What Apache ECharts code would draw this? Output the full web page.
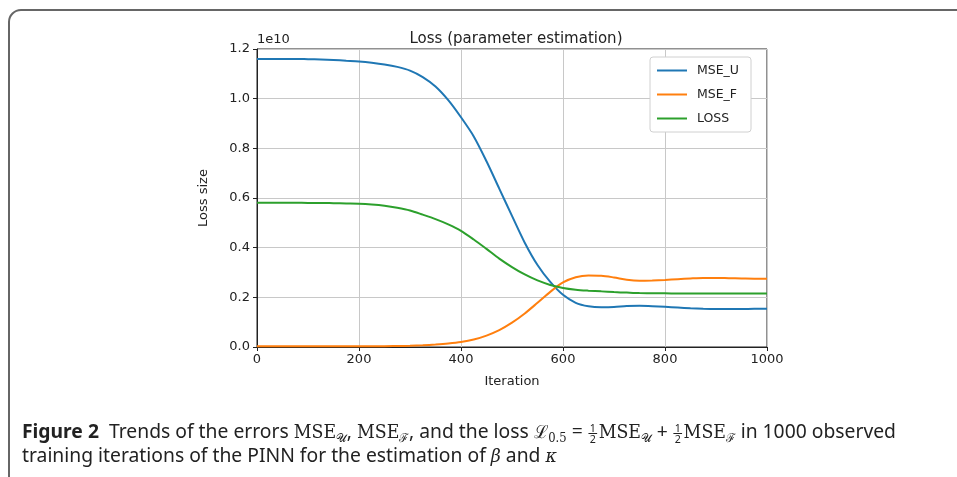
<!DOCTYPE html>
<html>
<head>
<meta charset="utf-8">
<script src="https://cdn.jsdelivr.net/npm/echarts@6/dist/echarts.min.js"></script>
<style>
  html, body { margin: 0; padding: 0; background: #fff; overflow: hidden; }
  #frame {
    position: absolute; left: 8px; top: 9px; width: 980px; height: 520px;
    border: 2px solid #666; border-radius: 13px; box-sizing: border-box;
  }
  #chart { position: absolute; left: 0; top: 0; width: 957px; height: 477px; }
  #caption {
    position: absolute; left: 22px; top: 419px; width: 1100px;
    font-family: "Noto Sans", sans-serif; font-size: 20px; line-height: 24px; color: #222;
    transform: scaleX(0.965); transform-origin: left top; white-space: nowrap;
  }
  .line { height: 24px; }
  #caption b { font-weight: bold; }
  .m { font-family: "DejaVu Serif", "Liberation Serif", serif; font-size: 18px; }
  .sub { font-size: 12px; vertical-align: -4px; line-height: 0; }
  .fr { display: inline-block; vertical-align: -0.45em; height: 20px;
        font-size: 11px; line-height: 10px; text-align: center; margin: 0 2px 0 1px; }
  .fr span { display: block; }
  .fr span:first-child { border-bottom: 1px solid #222; padding: 0 1px; }
</style>
</head>
<body>
<div id="frame"></div>
<div id="chart"></div>
<div id="caption">
  <div class="line"><b>Figure 2</b>&nbsp; Trends of the errors <span class="m">MSE<span class="sub">𝒰</span></span>, <span class="m">MSE<span class="sub">ℱ</span></span>, and the loss <span class="m">ℒ<span class="sub">0.5</span></span> = <span class="fr"><span>1</span><span>2</span></span><span class="m">MSE<span class="sub">𝒰</span></span> + <span class="fr"><span>1</span><span>2</span></span><span class="m">MSE<span class="sub">ℱ</span></span> in 1000 observed</div>
  <div class="line">training iterations of the PINN for the estimation of <span class="m"><i>β</i></span> and <span class="m"><i>κ</i></span></div>
</div>
<script>
// values in units of 1e10
const iterations = [0, 25, 50, 75, 100, 125, 150, 175, 200, 225, 250, 275, 300, 325, 350, 375, 400, 425, 450, 475, 500,
  525, 550, 575, 600, 625, 650, 675, 700, 725, 750, 775, 800, 825, 850, 875, 900, 925, 950, 975, 1000];
const mseU = [1.160, 1.160, 1.160, 1.160, 1.159, 1.158, 1.156, 1.153, 1.150, 1.145, 1.138, 1.128, 1.113, 1.087, 1.049, 0.994, 0.925, 0.848, 0.748, 0.638, 0.528,
  0.420, 0.330, 0.262, 0.210, 0.178, 0.164, 0.160, 0.161, 0.165, 0.166, 0.164, 0.162, 0.159, 0.156, 0.154, 0.153, 0.153, 0.153, 0.154, 0.154];
const mseF = [0.003, 0.003, 0.003, 0.003, 0.003, 0.003, 0.003, 0.003, 0.003, 0.003, 0.003, 0.004, 0.005, 0.007, 0.010, 0.014, 0.020, 0.030, 0.046, 0.068, 0.098,
  0.135, 0.178, 0.222, 0.260, 0.281, 0.288, 0.287, 0.280, 0.271, 0.267, 0.268, 0.270, 0.273, 0.276, 0.278, 0.278, 0.277, 0.276, 0.275, 0.275];
const loss = [0.581, 0.581, 0.581, 0.581, 0.580, 0.580, 0.579, 0.578, 0.577, 0.574, 0.569, 0.561, 0.550, 0.533, 0.515, 0.494, 0.468, 0.433, 0.395, 0.356, 0.322,
  0.292, 0.268, 0.250, 0.238, 0.231, 0.227, 0.224, 0.221, 0.219, 0.217, 0.216, 0.216, 0.215, 0.215, 0.215, 0.215, 0.215, 0.215, 0.215, 0.215];
const seriesNames = ["MSE_U", "MSE_F", "LOSS"];
const colors = ["#1f77b4", "#ff7f0e", "#2ca02c"];

const font = "DejaVu Sans";
let chart = echarts.init(document.getElementById("chart"));

function pairs(ys) {
  return iterations.map((x, i) => [x, ys[i]]);
}

chart.setOption({
  animation: false,
  color: colors,
  title: {
    text: "Loss (parameter estimation)",
    left: 511, top: 27, textAlign: "center",
    textStyle: { fontFamily: font, fontSize: 15, fontWeight: "normal", color: "#222" },
  },
  legend: {
    orient: "vertical",
    left: 650, top: 57,
    data: seriesNames,
    icon: "rect",
    itemWidth: 30, itemHeight: 2, itemGap: 11,
    padding: [7, 12, 7, 7],
    backgroundColor: "#fff",
    borderColor: "#d0d0d0", borderWidth: 1, borderRadius: 3,
    textStyle: { fontFamily: font, fontSize: 12.5, color: "#222", padding: [0, 0, 0, 5] },
  },
  graphic: [
    { type: "text", left: 257, top: 33,
      style: { text: "1e10", font: "13px DejaVu Sans", fill: "#222" } },
  ],
  grid: {
    left: 257, right: 190, top: 49, bottom: 130,
    show: true, borderColor: "#222", borderWidth: 1,
  },
  xAxis: {
    type: "value", min: 0, max: 1000, interval: 200,
    name: "Iteration", nameLocation: "middle", nameGap: 28,
    nameTextStyle: { fontFamily: font, fontSize: 13, color: "#222" },
    axisLine: { lineStyle: { color: "#222" } },
    axisTick: { show: true, length: 4, lineStyle: { color: "#222" } },
    axisLabel: { fontFamily: font, fontSize: 13, color: "#222", margin: 6,
                 formatter: (v) => String(v) },
    splitLine: { show: true, lineStyle: { color: "#c8c8c8", width: 1 } },
  },
  yAxis: {
    type: "value", min: 0, max: 1.2, interval: 0.2,
    name: "Loss size", nameLocation: "middle", nameGap: 47,
    nameTextStyle: { fontFamily: font, fontSize: 13, color: "#222" },
    axisLine: { show: true, lineStyle: { color: "#222" } },
    axisTick: { show: true, length: 4, lineStyle: { color: "#222" } },
    axisLabel: { fontFamily: font, fontSize: 13, color: "#222", margin: 7,
                 formatter: (v) => v.toFixed(1) },
    splitLine: { show: true, lineStyle: { color: "#c8c8c8", width: 1 } },
  },
  series: [
    { name: seriesNames[0], type: "line", data: pairs(mseU), smooth: 0.3, showSymbol: false, lineStyle: { width: 2 }, z: 3 },
    { name: seriesNames[1], type: "line", data: pairs(mseF), smooth: 0.3, showSymbol: false, lineStyle: { width: 2 }, z: 4 },
    { name: seriesNames[2], type: "line", data: pairs(loss), smooth: 0.3, showSymbol: false, lineStyle: { width: 2 }, z: 5 },
  ],
});
</script>
</body>
</html>
